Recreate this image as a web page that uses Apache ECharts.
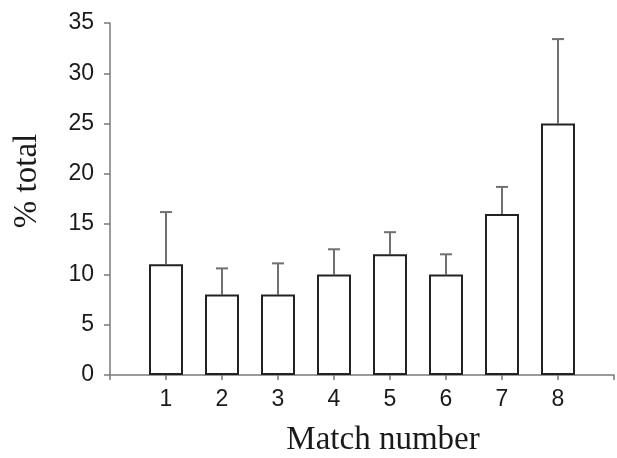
<!DOCTYPE html>
<html>
<head>
<meta charset="utf-8">
<script src="https://cdn.jsdelivr.net/npm/echarts@6/dist/echarts.min.js"></script>
<style>html,body{margin:0;padding:0;background:#fff;}#chart{width:617px;height:458px;}</style>
</head>
<body>
<div id="chart"></div>
<script>
var matchNumbers = [1, 2, 3, 4, 5, 6, 7, 8];
var meanValues = [11, 8, 8, 10, 12, 10, 16, 25];
var errorValues = [5.2, 2.6, 3.1, 2.5, 2.2, 2.0, 2.7, 8.4];
var yTicks = [0, 5, 10, 15, 20, 25, 30, 35];

var barData = matchNumbers.map(function (m, i) { return [m, meanValues[i]]; });
var errData = matchNumbers.map(function (m, i) { return [m, meanValues[i], meanValues[i] + errorValues[i]]; });

var chart = echarts.init(document.getElementById('chart'), null, {renderer: 'canvas'});
var axisColor = '#7a7a7a';
chart.setOption({
  animation: false,
  backgroundColor: '#fff',
  grid: {left: 110, right: 1, top: 23, bottom: 83, containLabel: false},
  xAxis: {
    type: 'value', min: 0, max: 9, interval: 1,
    splitLine: {show: false},
    axisLine: {show: true, lineStyle: {color: axisColor, width: 1.5}},
    axisTick: {show: true, length: 5, lineStyle: {color: axisColor, width: 1.5}},
    axisLabel: {
      margin: 13, color: '#1a1a1a', fontFamily: 'Liberation Sans', fontSize: 23,
      formatter: function (v) { return matchNumbers.indexOf(v) >= 0 ? String(v) : ''; }
    }
  },
  yAxis: {
    type: 'value', min: yTicks[0], max: yTicks[yTicks.length - 1], interval: 5,
    splitLine: {show: false},
    axisLine: {show: true, lineStyle: {color: axisColor, width: 1.5}},
    axisTick: {show: true, length: 6, lineStyle: {color: axisColor, width: 1.5}},
    axisLabel: {margin: 16, color: '#1a1a1a', fontFamily: 'Liberation Sans', fontSize: 23}
  },
  graphic: [
    {type: 'text', x: 383, y: 440, style: {text: 'Match number', font: '33px "Liberation Serif"', fill: '#1a1a1a', align: 'center', verticalAlign: 'middle'}},
    {type: 'text', x: 27, y: 181, rotation: Math.PI / 2, style: {text: '% total', font: '33px "Liberation Serif"', fill: '#1a1a1a', align: 'center', verticalAlign: 'middle'}}
  ],
  series: [
    {
      type: 'bar', data: barData, barWidth: 34,
      itemStyle: {color: '#fff', borderColor: '#222', borderWidth: 2}
    },
    {
      type: 'custom', data: errData, z: 1,
      renderItem: function (params, api) {
        var x = api.value(0);
        var top = api.coord([x, api.value(2)]);
        var base = api.coord([x, api.value(1)]);
        var hw = 6;
        return {
          type: 'group',
          children: [
            {type: 'line', shape: {x1: top[0], y1: top[1], x2: base[0], y2: base[1]}, style: {stroke: '#707070', lineWidth: 2}},
            {type: 'line', shape: {x1: top[0] - hw, y1: top[1], x2: top[0] + hw, y2: top[1]}, style: {stroke: '#707070', lineWidth: 2}}
          ]
        };
      }
    }
  ]
});
</script>
</body>
</html>
